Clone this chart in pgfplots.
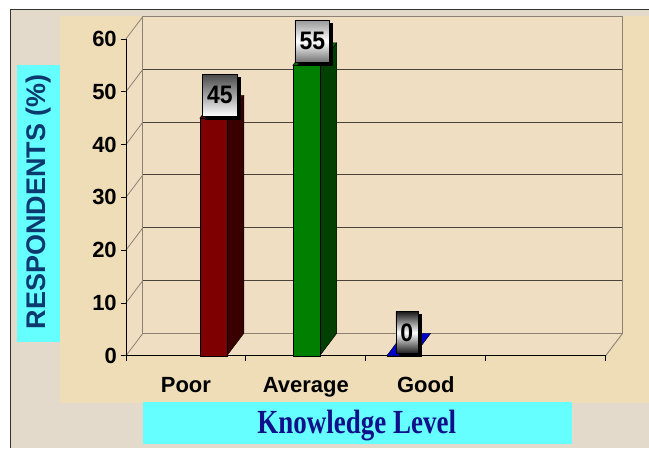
\documentclass[border=0pt]{standalone}
\usepackage{fontspec}
\setmainfont{Liberation Sans}
\newfontfamily\timesfont{Liberation Serif}
\usepackage{graphicx}
\usepackage{pgfplots}
\pgfplotsset{compat=1.18}
\usetikzlibrary{shadows}

\definecolor{outerbg}{HTML}{E3DACB}
\definecolor{innerbg}{HTML}{EEDDB6}
\definecolor{wallbg}{HTML}{F0DEC3}
\definecolor{cyanbox}{HTML}{66FFFF}
\definecolor{ylabcol}{HTML}{0D3A6E}
\definecolor{xlabcol}{HTML}{10108A}
\definecolor{gridgray}{HTML}{8C8273}
\definecolor{griddark}{HTML}{4A4239}
\definecolor{poorF}{HTML}{7E0000}
\definecolor{poorS}{HTML}{3A0000}
\definecolor{poorT}{HTML}{650000}
\definecolor{avgF}{HTML}{007F00}
\definecolor{avgS}{HTML}{004000}
\definecolor{avgT}{HTML}{006A00}
\definecolor{goodF}{HTML}{0000CC}

\tikzset{valbox/.style={anchor=south, draw=black, line width=0.4pt,
    minimum height=42pt, inner xsep=4.6pt, inner ysep=0pt,
    font=\fontsize{23}{23}\selectfont\bfseries, text=black,
    drop shadow={shadow xshift=3pt, shadow yshift=-3pt, opacity=1, fill=black}}}

\begin{document}
\begin{tikzpicture}
\begin{scope}[x=1pt,y=-1pt]
\fill[white] (0,0) rectangle (649,448);
\fill[outerbg] (10,9) rectangle (649,448);
\draw[black!80, line width=0.8pt] (10,448) -- (10,9) -- (649,9);
\fill[innerbg] (60,16) rectangle (649,403);
\fill[cyanbox] (17,65) rectangle (60,342);
\node[rotate=90, text=ylabcol, inner sep=0pt, font=\fontsize{27}{27}\selectfont\bfseries] at (38.5,202) {RESPONDENTS (\%)};
\fill[cyanbox] (143,402) rectangle (572,444);
\node[text=xlabcol, inner sep=0pt, font=\fontsize{27}{27}\selectfont\timesfont\bfseries] at (357,425.5) {\scalebox{1}[1.25]{Knowledge Level}};
\end{scope}

\begin{axis}[
  at={(126pt,-356pt)}, anchor=south west,
  x=120pt, y=5.28333pt,
  xmin=0, xmax=4, ymin=0, ymax=60,
  axis x line*=bottom, axis y line*=left,
  axis line style={-, black, line width=0.8pt},
  clip=false,
  ytick={0,10,...,60},
  tick align=outside, major tick length=5pt, minor tick length=5pt,
  xtick={0.5,1.5,2.5}, xticklabels={Poor,Average,Good},
  major x tick style={draw=none},
  minor xtick={0,1,2,3,4},
  minor x tick style={black, line width=0.8pt},
  major y tick style={black, line width=0.8pt},
  /pgf/number format/assume math mode=true,
  ticklabel style={font=\fontsize{22}{22}\selectfont\bfseries, text=black},
  yticklabel style={inner sep=0pt, xshift=-4pt},
  xticklabel style={inner sep=0pt, yshift=-16pt},
]
% walls and floor
\fill[wallbg] (axis cs:0,0) -- (axis cs:0,60) -- ++(17pt,22.5pt) -- ([shift={(17pt,22.5pt)}]axis cs:4,60) -- ([shift={(17pt,22.5pt)}]axis cs:4,0) -- (axis cs:4,0) -- cycle;
\pgfplotsinvokeforeach{0,10,20,30,40,50,60}{
  \draw[gridgray, line width=0.8pt] (axis cs:0,#1) -- ++(17pt,22.5pt);
}
\pgfplotsinvokeforeach{10,20,30,40,50}{
  \draw[griddark, line width=1.1pt] ([shift={(17pt,22.5pt)}]axis cs:0,#1) -- ([shift={(17pt,22.5pt)}]axis cs:4,#1);
}
\draw[gridgray, line width=0.9pt] ([shift={(17pt,22.5pt)}]axis cs:0,60) -- ([shift={(17pt,22.5pt)}]axis cs:4,60) -- ([shift={(17pt,22.5pt)}]axis cs:4,0) -- ([shift={(17pt,22.5pt)}]axis cs:0,0) -- cycle;
\draw[gridgray, line width=0.9pt] (axis cs:4,0) -- ++(17pt,22.5pt);
\draw[black, line width=0.8pt] (axis cs:0,60) -- (axis cs:0,0) -- (axis cs:4,0);

% Poor
\addplot[fill=poorS, draw=black, line width=0.4pt] coordinates {(0.8415,0) (0.9832,4.259) (0.9832,49.259) (0.8415,45)} -- cycle;
\addplot[fill=poorT, draw=black, line width=0.4pt] coordinates {(0.6165,45) (0.8415,45) (0.9832,49.259) (0.7582,49.259)} -- cycle;
\addplot[ybar, bar width=0.225, bar shift=0pt, fill=poorF, draw=black, line width=0.4pt,
  nodes near coords={\scalebox{1}[1.1]{\pgfmathprintnumber{\pgfplotspointmeta}}},
  nodes near coords style={valbox, xshift=6.5pt, yshift=2pt, top color=black!72, bottom color=white}]
  coordinates {(0.729,45)};

% Average
\addplot[fill=avgS, draw=black, line width=0.4pt] coordinates {(1.6165,0) (1.7582,4.259) (1.7582,59.259) (1.6165,55)} -- cycle;
\addplot[fill=avgT, draw=black, line width=0.4pt] coordinates {(1.3915,55) (1.6165,55) (1.7582,59.259) (1.5332,59.259)} -- cycle;
\addplot[ybar, bar width=0.225, bar shift=0pt, fill=avgF, draw=black, line width=0.4pt,
  nodes near coords={\scalebox{1}[1.1]{\pgfmathprintnumber{\pgfplotspointmeta}}},
  nodes near coords style={valbox, xshift=6pt, yshift=3pt, top color=black!40, bottom color=black!55, middle color=white}]
  coordinates {(1.504,55)};

% Good
\addplot[fill=goodF, draw=black, line width=0.4pt] coordinates {(2.175,0) (2.4,0) (2.5417,4.259) (2.3167,4.259)} -- cycle;
\addplot[ybar, bar width=0.225, bar shift=0pt, fill=goodF, draw=black, line width=0.4pt,
  nodes near coords={\scalebox{1}[1.1]{\pgfmathprintnumber{\pgfplotspointmeta}}},
  nodes near coords style={valbox, xshift=6.5pt, yshift=2pt, top color=black!90, bottom color=black!90, middle color=white}]
  coordinates {(2.2875,0)};
\end{axis}
\end{tikzpicture}
\end{document}
